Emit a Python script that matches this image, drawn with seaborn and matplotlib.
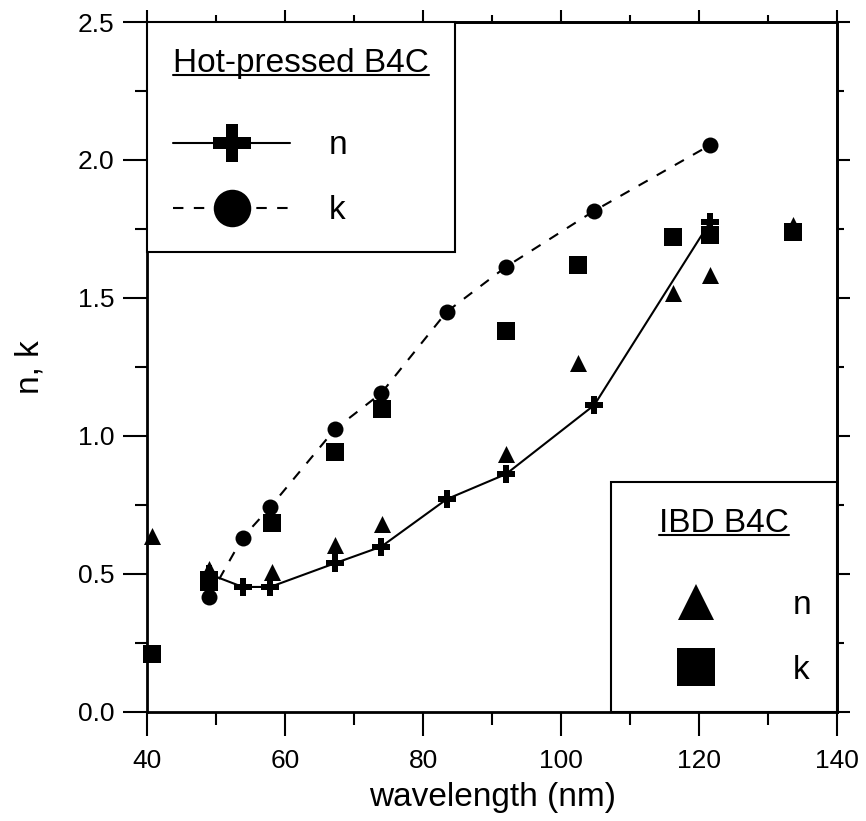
import seaborn as sns
import matplotlib.pyplot as plt
from matplotlib.lines import Line2D
from matplotlib.ticker import MultipleLocator

# Hot-pressed B4C (connected series)
hp_wl = [48.9, 53.8, 57.8, 67.2, 73.9, 83.4, 92.0, 104.8, 121.6]
hp_n = [0.500, 0.453, 0.453, 0.539, 0.599, 0.771, 0.862, 1.112, 1.776]
hp_k = [0.415, 0.632, 0.742, 1.025, 1.155, 1.450, 1.613, 1.816, 2.054]

# IBD B4C (symbols only)
ibd_wl = [40.6, 48.9, 58.0, 67.2, 74.0, 92.0, 102.5, 116.2, 121.6, 133.6]
ibd_n = [0.637, 0.518, 0.508, 0.605, 0.681, 0.935, 1.263, 1.517, 1.583, 1.765]
ibd_k = [0.210, 0.472, 0.684, 0.943, 1.098, 1.382, 1.620, 1.720, 1.728, 1.740]

sns.set_style('ticks')
plt.rcParams['font.family'] = ['Liberation Sans', 'DejaVu Sans']
plt.rcParams.update({'text.color': 'black', 'axes.labelcolor': 'black',
                     'xtick.color': 'black', 'ytick.color': 'black'})

fig = plt.figure(figsize=(8.66, 8.21), dpi=100)
ax = fig.add_axes([0.1703, 0.1328, 0.7962, 0.8404])

dash = (0, (5, 5))
sns.lineplot(x=hp_wl, y=hp_n, ax=ax, color='black', lw=1.5, marker='P', markersize=13,
             markeredgewidth=0, sort=False, estimator=None, clip_on=False)
sns.lineplot(x=hp_wl, y=hp_k, ax=ax, color='black', lw=1.5, linestyle=dash, marker='o',
             markersize=11.5, markeredgewidth=0, sort=False, estimator=None, clip_on=False)
sns.scatterplot(x=ibd_wl, y=ibd_n, ax=ax, color='black', marker='^', s=150, linewidth=0,
                zorder=3, clip_on=False)
sns.scatterplot(x=ibd_wl, y=ibd_k, ax=ax, color='black', marker='s', s=169, linewidth=0,
                zorder=3, clip_on=False)

ax.set_xlim(40, 140)
ax.set_ylim(0, 2.5)
ax.xaxis.set_major_locator(MultipleLocator(20))
ax.xaxis.set_minor_locator(MultipleLocator(10))
ax.yaxis.set_major_locator(MultipleLocator(0.5))
ax.yaxis.set_minor_locator(MultipleLocator(0.25))
ax.tick_params(which='major', direction='out', length=17, width=1.5, labelsize=19)
ax.tick_params(which='minor', direction='out', length=9, width=1.5)
ax.tick_params(axis='y', which='major', pad=7)
ax.tick_params(axis='x', which='major', pad=10)
for sp in ax.spines.values():
    sp.set_visible(True)
    sp.set_linewidth(2)
    sp.set_color('black')

# shorter ticks on top and right
secx = ax.secondary_xaxis('top')
secx.xaxis.set_major_locator(MultipleLocator(20))
secx.xaxis.set_minor_locator(MultipleLocator(10))
secx.tick_params(which='major', direction='out', length=9, width=1.5, labeltop=False)
secx.tick_params(which='minor', direction='out', length=5, width=1.5)
secx.spines['top'].set_linewidth(2)
secy = ax.secondary_yaxis('right')
secy.yaxis.set_major_locator(MultipleLocator(0.5))
secy.yaxis.set_minor_locator(MultipleLocator(0.25))
secy.tick_params(which='major', direction='out', length=9, width=1.5, labelright=False)
secy.tick_params(which='minor', direction='out', length=5, width=1.5)
secy.spines['right'].set_linewidth(2)

ax.set_xlabel('wavelength (nm)', fontsize=24, labelpad=6)
ax.set_ylabel('n, k', fontsize=24, labelpad=23)

leg_kw = dict(borderaxespad=0, fontsize=24, title_fontsize=24, handlelength=3.5,
              handletextpad=1.15, labelspacing=1.02, borderpad=0.78, frameon=True,
              fancybox=False, edgecolor='black', framealpha=1)
h1 = [Line2D([], [], color='black', lw=1.5, marker='P', markersize=27, markeredgewidth=0),
      Line2D([], [], color='black', lw=1.5, linestyle=dash, marker='o', markersize=27,
             markeredgewidth=0)]
leg1 = ax.legend(h1, ['n', 'k'], title='Hot-pressed B4C', loc='upper left',
                 bbox_to_anchor=(0, 1), alignment='left', **leg_kw)
leg1.get_frame().set_linewidth(1.5)
ax.add_artist(leg1)
h2 = [Line2D([], [], color='black', lw=0, marker='^', markersize=26, markeredgewidth=0),
      Line2D([], [], color='black', lw=0, marker='s', markersize=27, markeredgewidth=0)]
leg2 = ax.legend(h2, ['n', 'k'], title='IBD B4C', loc='lower right',
                 bbox_to_anchor=(1, 0), alignment='center', **leg_kw)
leg2.get_frame().set_linewidth(1.5)
for leg in (leg1, leg2):
    leg._legend_box.sep = 37  # gap between title and entries (points)

# underline the legend titles
fig.canvas.draw()
r = fig.canvas.get_renderer()
W, H = fig.bbox.width, fig.bbox.height
for leg in (leg1, leg2):
    bb = leg.get_title().get_window_extent(r)
    y = bb.y0 + 0.13 * bb.height
    fig.add_artist(Line2D([bb.x0 / W, bb.x1 / W], [y / H, y / H], color='black', lw=1.5,
                          transform=fig.transFigure))

fig.savefig('out.png', dpi=100)
